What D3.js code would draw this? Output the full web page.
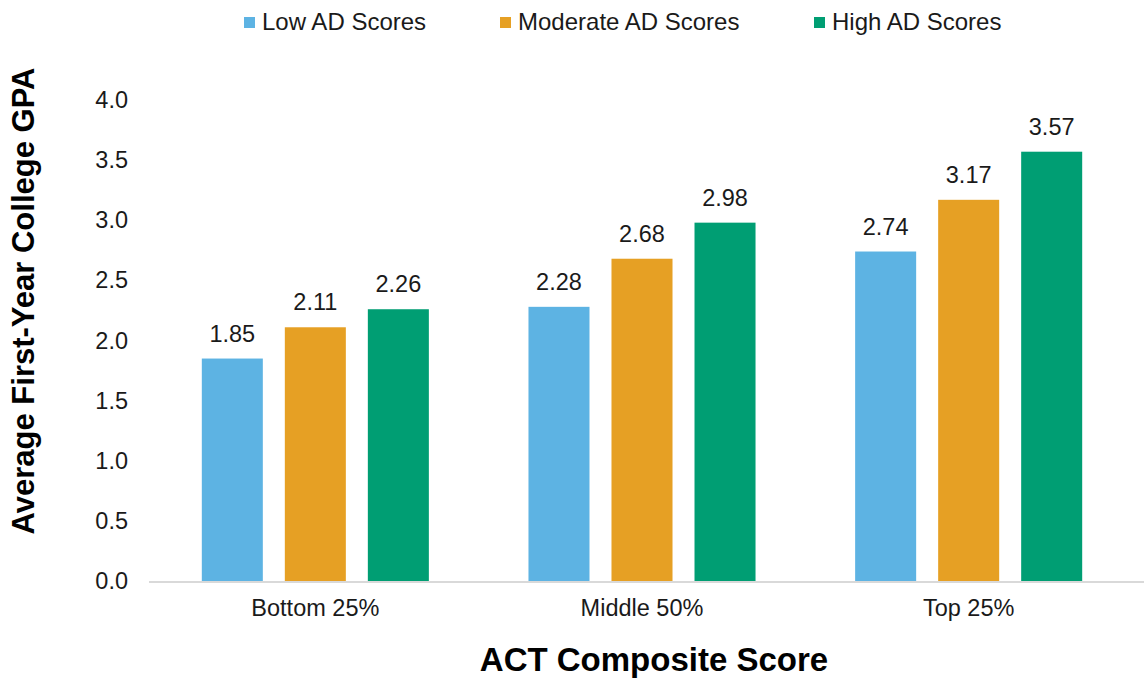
<!DOCTYPE html>
<html>
<head>
<meta charset="utf-8">
<script src="https://cdn.jsdelivr.net/npm/d3@7"></script>
<style>
  body { margin: 0; background: #fff; }
  svg { font-family: "Liberation Sans", Arial, sans-serif; }
</style>
</head>
<body>
<div id="chart"></div>
<script>
// chart data
var categories = ["Bottom 25%", "Middle 50%", "Top 25%"];
var seriesNames = ["Low AD Scores", "Moderate AD Scores", "High AD Scores"];
var lowAD = [1.85, 2.28, 2.74];
var moderateAD = [2.11, 2.68, 3.17];
var highAD = [2.26, 2.98, 3.57];
var yTicks = [0, 0.5, 1, 1.5, 2, 2.5, 3, 3.5, 4];
var colors = ["#5DB3E3", "#E6A024", "#009E73"];

var seriesValues = [lowAD, moderateAD, highAD];

var width = 1144, height = 680;
var fs = 23.5;   // general label size

var svg = d3.select("#chart").append("svg")
  .attr("width", width)
  .attr("height", height);

// scales
var x0 = d3.scaleBand()
  .domain(categories)
  .range([152, 1132]);

var x1 = d3.scaleBand()
  .domain(seriesNames)
  .range([0, x0.bandwidth()])
  .paddingInner(0.265)
  .paddingOuter(0.6);

var y = d3.scaleLinear()
  .domain([0, 4])
  .range([581, 100]);

// y axis labels (no line, no ticks)
var yAxis = d3.axisLeft(y)
  .tickValues(yTicks)
  .tickFormat(d3.format(".1f"))
  .tickSize(0)
  .tickPadding(0);

svg.append("g")
  .attr("transform", "translate(128,0)")
  .call(yAxis)
  .call(function(g) { g.select(".domain").remove(); })
  .selectAll("text")
  .attr("font-size", fs)
  .attr("fill", "#1a1a1a")
  .attr("font-family", "Liberation Sans, Arial, sans-serif");

// bars, one group per category
var groups = svg.selectAll(".group")
  .data(categories)
  .enter().append("g")
  .attr("class", "group")
  .attr("transform", function(d) { return "translate(" + x0(d) + ",0)"; });

groups.selectAll("rect")
  .data(function(d, i) {
    return seriesNames.map(function(s, j) {
      return { series: s, value: seriesValues[j][i], color: colors[j] };
    });
  })
  .enter().append("rect")
  .attr("x", function(d) { return x1(d.series); })
  .attr("y", function(d) { return y(d.value); })
  .attr("width", x1.bandwidth())
  .attr("height", function(d) { return y(0) - y(d.value); })
  .attr("fill", function(d) { return d.color; });

// value labels above bars
groups.selectAll("text.val")
  .data(function(d, i) {
    return seriesNames.map(function(s, j) {
      return { series: s, value: seriesValues[j][i] };
    });
  })
  .enter().append("text")
  .attr("class", "val")
  .attr("x", function(d) { return x1(d.series) + x1.bandwidth() / 2; })
  .attr("y", function(d) { return y(d.value) - 17; })
  .attr("text-anchor", "middle")
  .attr("font-size", fs)
  .attr("fill", "#1a1a1a")
  .text(function(d) { return d3.format(".2f")(d.value); });

// x axis baseline and category labels
var xAxis = d3.axisBottom(x0).tickSize(0).tickPadding(0);

var gx = svg.append("g")
  .attr("transform", "translate(0," + y(0) + ")")
  .call(xAxis);

gx.select(".domain").remove();
gx.selectAll("text")
  .attr("y", 35)
  .attr("dy", 0)
  .attr("font-size", fs)
  .attr("fill", "#1a1a1a")
  .attr("font-family", "Liberation Sans, Arial, sans-serif");

svg.append("line")
  .attr("x1", 149).attr("x2", width)
  .attr("y1", y(0) + 1).attr("y2", y(0) + 1)
  .attr("stroke", "#d9d9d9")
  .attr("stroke-width", 2);

// axis titles
svg.append("text")
  .attr("transform", "translate(34," + 301 + ") rotate(-90)")
  .attr("text-anchor", "middle")
  .attr("font-size", 31)
  .attr("font-weight", "bold")
  .attr("fill", "#000")
  .text("Average First-Year College GPA");

svg.append("text")
  .attr("x", 654)
  .attr("y", 671)
  .attr("text-anchor", "middle")
  .attr("font-size", 33)
  .attr("font-weight", "bold")
  .attr("fill", "#000")
  .text("ACT Composite Score");

// legend
var legendX = [244, 500, 814];
var legend = svg.selectAll(".legend")
  .data(seriesNames)
  .enter().append("g")
  .attr("class", "legend")
  .attr("transform", function(d, i) { return "translate(" + legendX[i] + ",0)"; });

legend.append("rect")
  .attr("x", 0).attr("y", 17)
  .attr("width", 11).attr("height", 11)
  .attr("fill", function(d, i) { return colors[i]; });

legend.append("text")
  .attr("x", 18).attr("y", 30)
  .attr("font-size", 24)
  .attr("fill", "#1a1a1a")
  .text(function(d) { return d; });
</script>
</body>
</html>
